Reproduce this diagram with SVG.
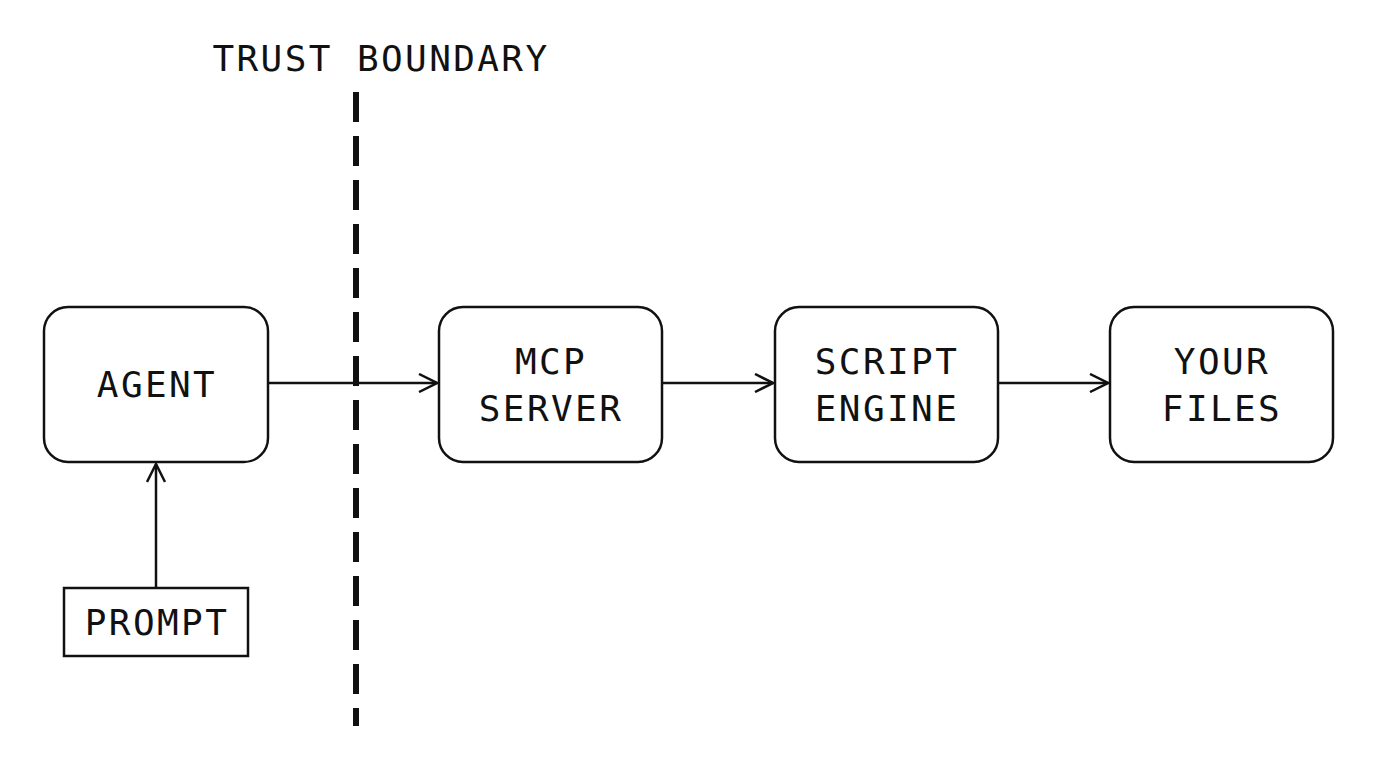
<svg xmlns="http://www.w3.org/2000/svg" width="1376" height="768" viewBox="0 0 1376 768">
<style>
.n{fill:#fff;stroke:#111;stroke-width:2.5}
.t{font-family:"DejaVu Sans Mono","Liberation Mono",monospace;font-size:36px;letter-spacing:2.4px;fill:#111;text-anchor:middle}
.c{stroke:#111;stroke-width:2.5;fill:none}
</style>
<defs>
<marker id="a" viewBox="0 0 20 20" refX="19" refY="10" markerWidth="20" markerHeight="20" markerUnits="userSpaceOnUse" orient="auto">
<polyline points="1,1 19,10 1,19" fill="none" stroke="#111" stroke-width="2.5"/>
</marker>
</defs>
<rect width="1376" height="768" fill="#fff"/>
<g id="boundary">
<line x1="356" y1="92" x2="356" y2="726" stroke="#111" stroke-width="6" stroke-dasharray="30,14"/>
<text class="t" x="381" y="71">TRUST BOUNDARY</text>
</g>
<g id="connectors">
<line class="c" x1="268" y1="383" x2="437" y2="383" marker-end="url(#a)"/>
<line class="c" x1="662" y1="383" x2="773" y2="383" marker-end="url(#a)"/>
<line class="c" x1="998" y1="383" x2="1108" y2="383" marker-end="url(#a)"/>
<line class="c" x1="156" y1="588" x2="156" y2="464" marker-end="url(#a)"/>
</g>
<g id="agent"><rect class="n" x="44" y="307" width="224" height="155" rx="24"/><text class="t" x="157" y="397">AGENT</text></g>
<g id="mcp"><rect class="n" x="439" y="307" width="223" height="155" rx="24"/><text class="t" x="551" y="374">MCP</text><text class="t" x="551" y="421">SERVER</text></g>
<g id="script"><rect class="n" x="775" y="307" width="223" height="155" rx="24"/><text class="t" x="887" y="374">SCRIPT</text><text class="t" x="887" y="421">ENGINE</text></g>
<g id="files"><rect class="n" x="1110" y="307" width="223" height="155" rx="24"/><text class="t" x="1222" y="374">YOUR</text><text class="t" x="1222" y="421">FILES</text></g>
<g id="prompt"><rect class="n" x="64" y="588" width="184" height="68"/><text class="t" x="157" y="635">PROMPT</text></g>
</svg>
